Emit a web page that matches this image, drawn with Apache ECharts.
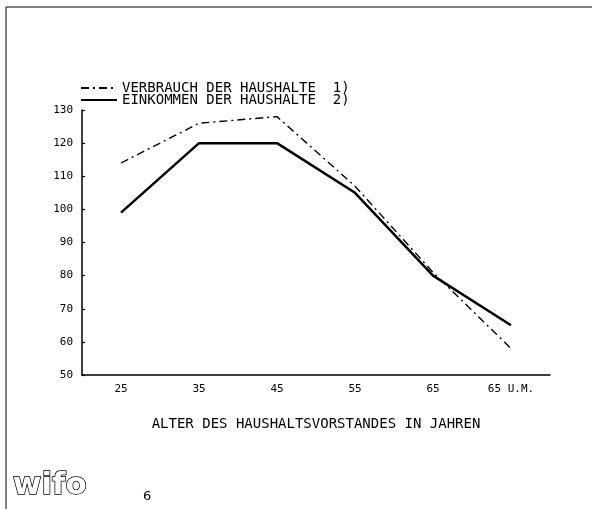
<!DOCTYPE html>
<html>
<head>
<meta charset="utf-8">
<script src="https://cdn.jsdelivr.net/npm/echarts@6/dist/echarts.min.js"></script>
<style>html,body{margin:0;padding:0;background:#fff}#c{width:592px;height:509px}</style>
</head>
<body>
<div id="c"></div>
<script>
var categories = ['25', '35', '45', '55', '65', '65 U.M.'];
var verbrauch = [114, 126, 128, 107, 81, 58];
var einkommen = [99, 120, 120, 105, 80, 65];
var yTicks = [50, 60, 70, 80, 90, 100, 110, 120, 130];
var seriesNames = ['VERBRAUCH DER HAUSHALTE  1)', 'EINKOMMEN DER HAUSHALTE  2)'];
var xTitle = 'ALTER DES HAUSHALTSVORSTANDES IN JAHREN';

var mono = '"DejaVu Sans Mono", "Liberation Mono", monospace';
var chart = echarts.init(document.getElementById('c'), null, {renderer: 'canvas'});
chart.setOption({
  animation: false,
  backgroundColor: '#fff',
  grid: {left: 82, right: 42, top: 110, bottom: 134, containLabel: false},
  legend: {
    orient: 'vertical', left: 80, top: 81,
    itemWidth: 36, itemHeight: 10, itemGap: -2,
    padding: 0,
    itemStyle: {opacity: 0, color: 'rgba(0,0,0,0)', borderColor: 'rgba(0,0,0,0)', borderWidth: 0},
    textStyle: {fontFamily: mono, fontSize: 14, color: '#000', lineHeight: 12},
    data: seriesNames
  },
  xAxis: {
    type: 'category', data: categories, boundaryGap: true,
    axisLine: {lineStyle: {color: '#000', width: 1.5}},
    axisTick: {inside: true, length: 4, lineStyle: {color: '#000', width: 1.5}},
    axisLabel: {fontFamily: mono, fontSize: 11, color: '#000', margin: 9},
    name: xTitle, nameLocation: 'middle', nameGap: 42,
    nameTextStyle: {fontFamily: mono, fontSize: 14, color: '#000'},
    splitLine: {show: false}
  },
  yAxis: {
    type: 'value', min: 50, max: 130, interval: 10,
    axisLine: {show: true, lineStyle: {color: '#000', width: 1.5}},
    axisTick: {show: true, inside: true, length: 3, lineStyle: {color: '#000', width: 1.2}},
    axisLabel: {fontFamily: mono, fontSize: 11, color: '#000', margin: 9, padding: [0, 0, 6, 0],
      formatter: function (v) { return yTicks.indexOf(v) >= 0 ? String(v) : ''; }},
    splitLine: {show: false}
  },
  series: [
    {
      name: seriesNames[0], type: 'line', data: verbrauch, symbol: 'none',
      lineStyle: {color: '#000', width: 1.4, type: [8, 4, 2, 4]},
      itemStyle: {color: '#000'}
    },
    {
      name: seriesNames[1], type: 'line', data: einkommen, symbol: 'none',
      lineStyle: {color: '#000', width: 2.5, type: 'solid'},
      itemStyle: {color: '#000'}
    }
  ],
  graphic: [
    {type: 'line', shape: {x1: 6, y1: 7, x2: 592, y2: 7}, style: {stroke: '#000', lineWidth: 1}},
    {type: 'line', shape: {x1: 6, y1: 7, x2: 6, y2: 509}, style: {stroke: '#000', lineWidth: 1}},
    {type: 'text', left: 12, top: 470, style: {text: 'wifo', font: 'bold 31px "DejaVu Sans"', fill: '#fff', stroke: '#000', lineWidth: 1.5}},
    {type: 'text', left: 143, top: 490, style: {text: '6', font: '13px "DejaVu Sans"', fill: '#000'}}
  ]
});
</script>
</body>
</html>
